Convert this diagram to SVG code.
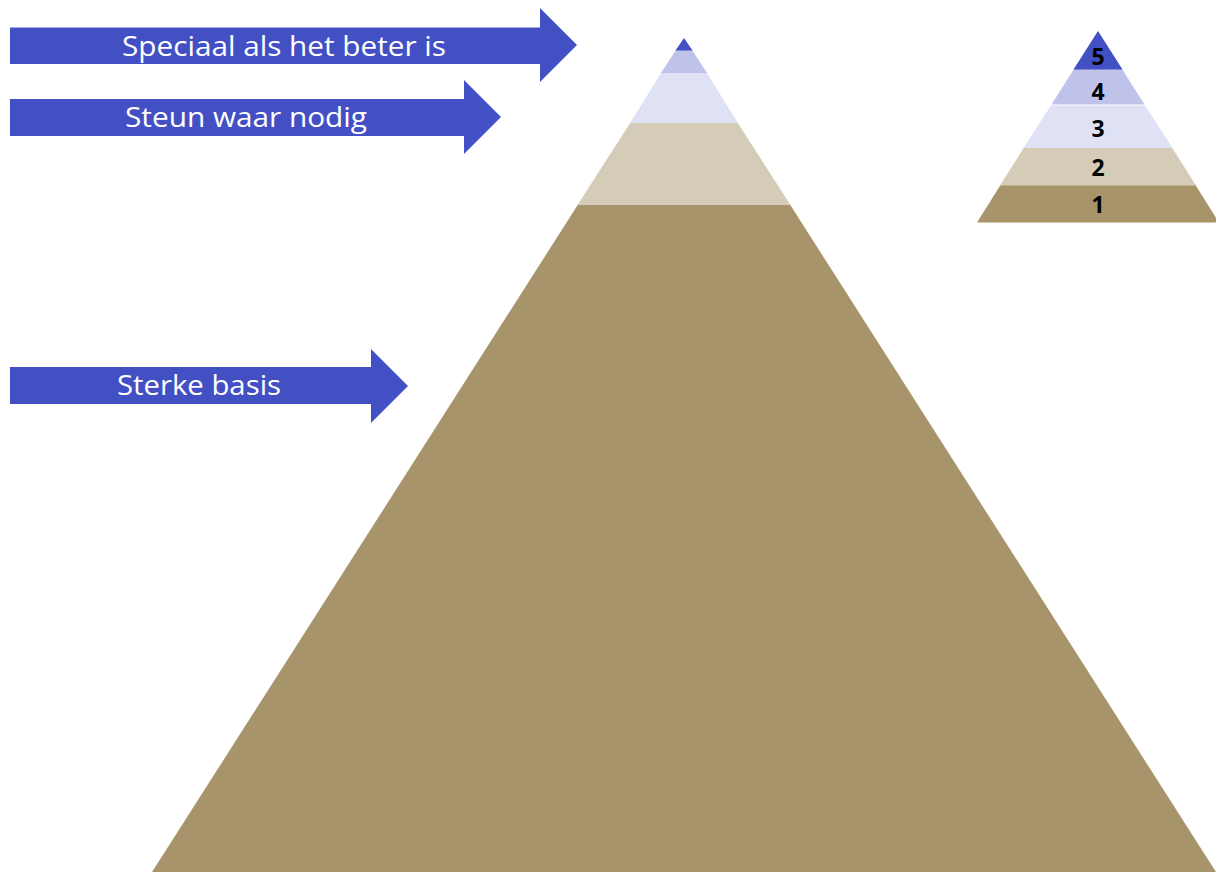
<svg xmlns="http://www.w3.org/2000/svg" width="1216" height="872" viewBox="0 0 1216 872">
<style>
.blue{fill:#4350C4}
.lilac{fill:#BFC3EA}
.light{fill:#DFE2F5}
.beige{fill:#D5CCB8}
.brown{fill:#A8946B}
.lbl{font-family:"Open Sans","Noto Sans",sans-serif;font-size:27px;fill:#FFFFFF;text-anchor:middle}
.num{font-family:"Open Sans","Noto Sans",sans-serif;font-weight:bold;font-size:23px;fill:#000000;text-anchor:middle}
</style>
<rect width="1216" height="872" fill="#FFFFFF"/>
<g id="big-pyramid">
<polygon class="brown" points="578,204.5 790,204.5 1216,872 152,872"/>
<polygon class="beige" points="630.5,122.5 737.5,122.5 790.5,205 577.5,205"/>
<polygon class="light" points="661.5,72.5 706.5,72.5 738,123 630,123"/>
<polygon class="lilac" points="676,50 692,50 707,73 661,73"/>
<polygon class="blue" points="684,38 692.5,50.5 675.5,50.5"/>
</g>
<g id="small-pyramid">
<polygon class="brown" points="1000.5,185 1195.5,185 1219,222.5 977,222.5"/>
<polygon class="beige" points="1024,147.5 1172,147.5 1196,185.5 1000,185.5"/>
<polygon class="light" points="1051,105.5 1145,105.5 1172.5,148 1023.5,148"/>
<polygon class="lilac" points="1074,69 1122,69 1144.5,104.5 1051.5,104.5"/>
<polygon class="blue" points="1098,31 1122.5,69.5 1073.5,69.5"/>
<text class="num" x="1098" y="65">5</text>
<text class="num" x="1098" y="100">4</text>
<text class="num" x="1098" y="137">3</text>
<text class="num" x="1098" y="176">2</text>
<text class="num" x="1098" y="213">1</text>
</g>
<g id="connectors">
<g id="arrow-speciaal">
<polygon class="blue" points="10,27.5 540,27.5 540,8 577,45 540,82 540,64 10,64"/>
<text class="lbl" x="284" y="56" textLength="324" lengthAdjust="spacingAndGlyphs">Speciaal als het beter is</text>
</g>
<g id="arrow-steun">
<polygon class="blue" points="10,99 464,99 464,80 501,117 464,154 464,136 10,136"/>
<text class="lbl" x="246" y="127" textLength="242" lengthAdjust="spacingAndGlyphs">Steun waar nodig</text>
</g>
<g id="arrow-sterke">
<polygon class="blue" points="10,367 371,367 371,349 408,386 371,423 371,404 10,404"/>
<text class="lbl" x="199" y="395" textLength="164" lengthAdjust="spacingAndGlyphs">Sterke basis</text>
</g>
</g>
</svg>
